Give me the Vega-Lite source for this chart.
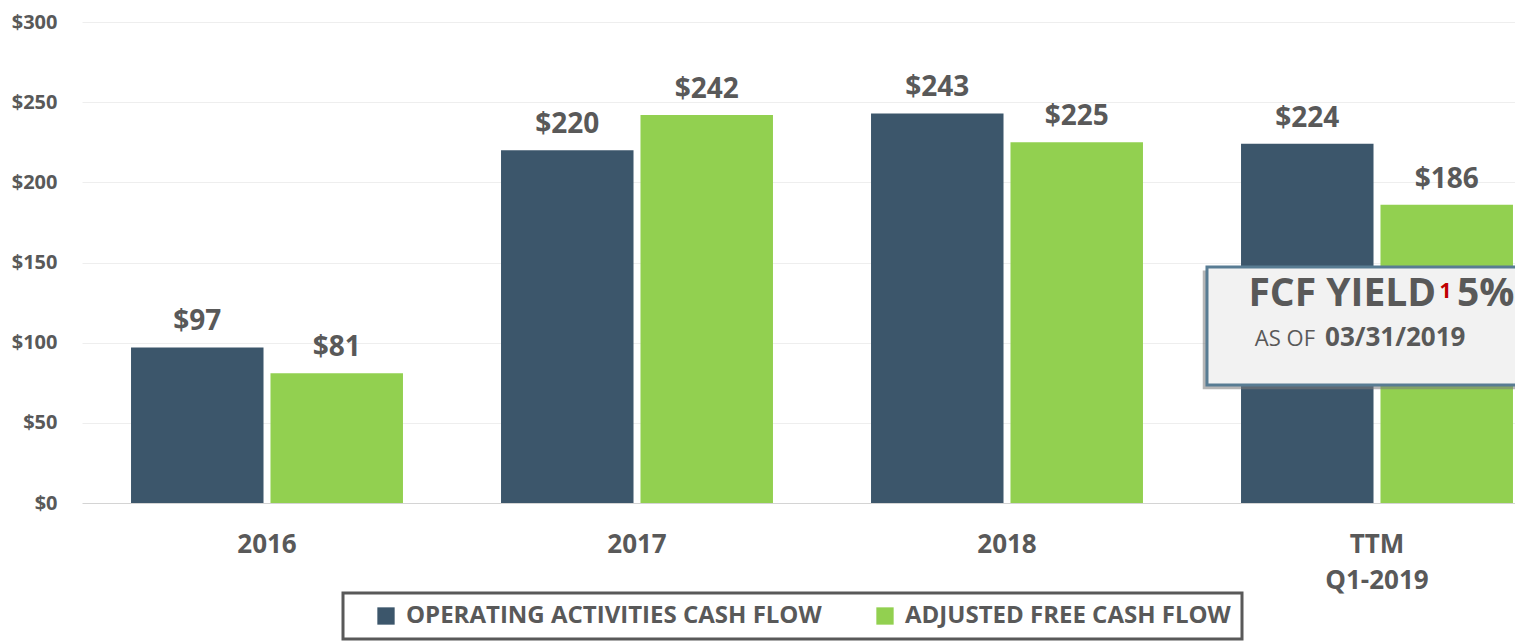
{
  "$schema": "https://vega.github.io/schema/vega-lite/v6.json",
  "width": 1433,
  "height": 481,
  "autosize": "none",
  "padding": {"left": 82, "top": 22, "right": 0, "bottom": 140},
  "background": "white",
  "config": {
    "view": {"stroke": null},
    "font": "Open Sans",
    "axis": {
      "labelFont": "Open Sans",
      "labelFontWeight": "bold",
      "labelColor": "#595959",
      "ticks": false,
      "tickSize": 0,
      "domain": false,
      "title": null
    },
    "legend": {
      "labelFont": "Open Sans",
      "labelFontWeight": "bold",
      "labelColor": "#595959",
      "labelFontSize": 24,
      "labelLimit": 0,
      "strokeColor": "#595959",
      "strokeWidth": 3,
      "fillColor": "white",
      "padding": 11,
      "symbolType": "square",
      "symbolSize": 300,
      "symbolStrokeWidth": 0,
      "symbolOffset": 20,
      "labelOffset": 8,
      "columnPadding": 31,
      "title": null
    }
  },
  "layer": [
    {
      "data": {
        "values": [
          {"period": "2016", "series": "Operating Activities Cash Flow", "value": 97},
          {"period": "2016", "series": "Adjusted Free Cash Flow", "value": 81},
          {"period": "2017", "series": "Operating Activities Cash Flow", "value": 220},
          {"period": "2017", "series": "Adjusted Free Cash Flow", "value": 242},
          {"period": "2018", "series": "Operating Activities Cash Flow", "value": 243},
          {"period": "2018", "series": "Adjusted Free Cash Flow", "value": 225},
          {"period": "TTM Q1-2019", "series": "Operating Activities Cash Flow", "value": 224},
          {"period": "TTM Q1-2019", "series": "Adjusted Free Cash Flow", "value": 186}
        ]
      },
      "encoding": {
        "x": {
          "field": "period",
          "type": "nominal",
          "sort": null,
          "scale": {"range": [0, 1480], "paddingInner": 0.265, "paddingOuter": 0.1325},
          "axis": {
            "labelAngle": 0,
            "labelFontSize": 26,
            "labelPadding": 28,
            "labelLineHeight": 36,
            "grid": false,
            "labelExpr": "datum.value == 'TTM Q1-2019' ? ['TTM', 'Q1-2019'] : datum.label"
          }
        },
        "xOffset": {
          "field": "series",
          "type": "nominal",
          "sort": ["Operating Activities Cash Flow", "Adjusted Free Cash Flow"],
          "scale": {"paddingInner": 0.05}
        },
        "y": {
          "field": "value",
          "type": "quantitative",
          "scale": {"domain": [0, 300], "nice": false},
          "axis": {
            "values": [0, 50, 100, 150, 200, 250, 300],
            "labelExpr": "'$' + datum.value",
            "labelFontSize": 20,
            "labelPadding": 25,
            "grid": true,
            "gridColor": {"condition": {"test": "datum.value === 0", "value": "#d4d4d4"}, "value": "#eeeeee"},
            "gridWidth": 1
          }
        }
      },
      "layer": [
        {
          "mark": {"type": "bar"},
          "encoding": {
            "color": {
              "field": "series",
              "type": "nominal",
              "scale": {
                "domain": ["Operating Activities Cash Flow", "Adjusted Free Cash Flow"],
                "range": ["#3c566b", "#92d050"]
              },
              "legend": {
                "orient": "none",
                "legendX": 261,
                "legendY": 571,
                "direction": "horizontal",
                "labelExpr": "upper(datum.label)"
              }
            }
          }
        },
        {
          "mark": {
            "type": "text",
            "baseline": "alphabetic",
            "dy": -17,
            "fontSize": 28,
            "fontWeight": "bold",
            "font": "Open Sans",
            "color": "#595959"
          },
          "encoding": {
            "text": {"field": "value", "type": "quantitative", "format": "$.0f"}
          }
        }
      ]
    },
    {
      "data": {"values": [{}]},
      "layer": [
        {
          "mark": {"type": "rect", "color": "#7a7a7a", "opacity": 0.55},
          "encoding": {
            "x": {"datum": 3.029, "type": "quantitative", "scale": {"domain": [0, 4], "range": [0, 1480], "nice": false, "zero": false}, "axis": null},
            "x2": {"datum": 4.3},
            "y": {"datum": 71, "type": "quantitative", "scale": {"domain": [0, 300], "nice": false}, "axis": null},
            "y2": {"datum": 145}
          }
        },
        {
          "mark": {"type": "rect", "color": "#f2f2f2", "stroke": "#587c93", "strokeWidth": 3},
          "encoding": {
            "x": {"datum": 3.0405, "type": "quantitative", "axis": null},
            "x2": {"datum": 4.3},
            "y": {"datum": 73.6, "type": "quantitative", "axis": null},
            "y2": {"datum": 147.2}
          }
        },
        {
          "mark": {"type": "text", "text": "FCF YIELD", "align": "right", "baseline": "alphabetic", "fontSize": 39, "fontWeight": "bold", "font": "Open Sans", "color": "#595959"},
          "encoding": {
            "x": {"datum": 3.66, "type": "quantitative", "axis": null},
            "y": {"datum": 122.9, "type": "quantitative", "axis": null}
          }
        },
        {
          "mark": {"type": "text", "text": "1", "align": "center", "baseline": "alphabetic", "fontSize": 21, "fontWeight": "bold", "font": "Open Sans", "color": "#c00000"},
          "encoding": {
            "x": {"datum": 3.685, "type": "quantitative", "axis": null},
            "y": {"datum": 128, "type": "quantitative", "axis": null}
          }
        },
        {
          "mark": {"type": "text", "text": "5%", "align": "left", "baseline": "alphabetic", "fontSize": 39, "fontWeight": "bold", "font": "Open Sans", "color": "#595959"},
          "encoding": {
            "x": {"datum": 3.716, "type": "quantitative", "axis": null},
            "y": {"datum": 122.9, "type": "quantitative", "axis": null}
          }
        },
        {
          "mark": {"type": "text", "text": "AS OF", "align": "right", "baseline": "alphabetic", "fontSize": 22, "fontWeight": "normal", "font": "Open Sans", "color": "#595959"},
          "encoding": {
            "x": {"datum": 3.3324, "type": "quantitative", "axis": null},
            "y": {"datum": 97.9, "type": "quantitative", "axis": null}
          }
        },
        {
          "mark": {"type": "text", "text": "03/31/2019", "align": "left", "baseline": "alphabetic", "fontSize": 26, "fontWeight": "bold", "font": "Open Sans", "color": "#595959"},
          "encoding": {
            "x": {"datum": 3.3595, "type": "quantitative", "axis": null},
            "y": {"datum": 97.9, "type": "quantitative", "axis": null}
          }
        }
      ]
    }
  ],
  "resolve": {"scale": {"x": "independent", "y": "independent"}}
}
